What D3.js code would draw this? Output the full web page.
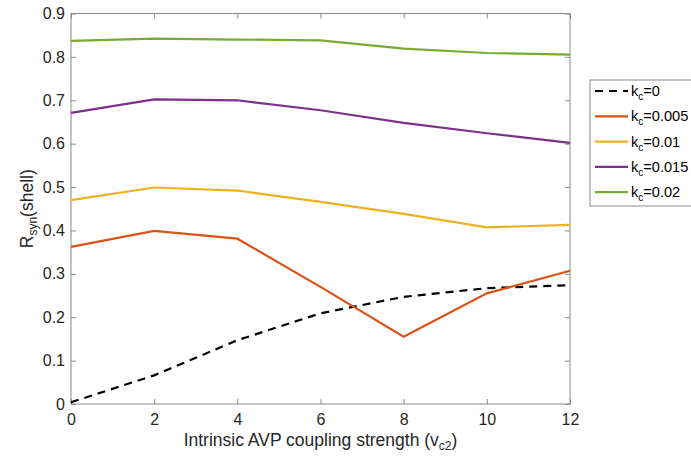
<!DOCTYPE html>
<html><head><meta charset="utf-8">
<script src="https://cdn.jsdelivr.net/npm/d3@7"></script>
<style>body{margin:0;background:#fff}svg{display:block}text{font-family:"Liberation Sans",Helvetica,Arial,sans-serif}</style>
</head><body><svg id="c" width="691" height="459"></svg>
<script>
const xValues = [0, 2, 4, 6, 8, 10, 12];
const seriesNames = ["0", "0.005", "0.01", "0.015", "0.02"];
const kc0     = [0.004, 0.066, 0.147, 0.209, 0.247, 0.267, 0.274];
const kc005   = [0.362, 0.399, 0.381, 0.270, 0.155, 0.255, 0.307];
const kc01    = [0.470, 0.499, 0.492, 0.466, 0.438, 0.407, 0.413];
const kc015   = [0.671, 0.702, 0.700, 0.677, 0.648, 0.624, 0.602];
const kc02    = [0.837, 0.842, 0.840, 0.838, 0.819, 0.809, 0.805];
const xTicks = [0, 2, 4, 6, 8, 10, 12];
const yTicks = [0, 0.1, 0.2, 0.3, 0.4, 0.5, 0.6, 0.7, 0.8, 0.9];
const colors = ["#000000", "#D95319", "#EDB120", "#7E2F8E", "#77AC30"];

const series = [kc0, kc005, kc01, kc015, kc02].map((v, i) => ({name: seriesNames[i], values: v, color: colors[i], dash: i === 0 ? "8,6" : null}));

const svg = d3.select("#c");
const L = 71, R = 570, T = 13.5, B = 404;
const x = d3.scaleLinear().domain([0, 12]).range([L, R]);
const y = d3.scaleLinear().domain([0, 0.9]).range([B, T]);
const axisColor = "#8a8a8a";

// box
svg.append("rect").attr("x", L).attr("y", T).attr("width", R - L).attr("height", B - T)
  .attr("fill", "none").attr("stroke", axisColor).attr("stroke-width", 1);

// axes
const xAxis = svg.append("g").attr("transform", `translate(0,${B})`)
  .call(d3.axisBottom(x).tickValues(xTicks).tickSize(-5).tickPadding(10).tickFormat(d3.format("d")));
const xAxisTop = svg.append("g").attr("transform", `translate(0,${T})`)
  .call(d3.axisTop(x).tickValues(xTicks).tickSize(-5).tickFormat(""));
const yAxis = svg.append("g").attr("transform", `translate(${L},0)`)
  .call(d3.axisLeft(y).tickValues(yTicks).tickSize(-5).tickPadding(6).tickFormat(d => d === 0 ? "0" : d3.format(".1f")(d)));
const yAxisR = svg.append("g").attr("transform", `translate(${R},0)`)
  .call(d3.axisRight(y).tickValues(yTicks).tickSize(-5).tickFormat(""));
[xAxis, xAxisTop, yAxis, yAxisR].forEach(g => {
  g.select(".domain").remove();
  g.selectAll(".tick line").attr("stroke", axisColor);
  g.selectAll(".tick text").attr("fill", "#262626").style("font-size", "16px").style("font-family", '"Liberation Sans",Helvetica,Arial,sans-serif');
});

// lines
const line = d3.line().x((d, i) => x(xValues[i])).y(d => y(d));
const plot = svg.append("g");
series.forEach(s => {
  plot.append("path").datum(s.values).attr("d", line).attr("fill", "none")
    .attr("stroke", s.color).attr("stroke-width", 2.2)
    .attr("stroke-dasharray", s.dash);
});

// labels
svg.append("text").attr("x", (L + R) / 2).attr("y", 446).attr("text-anchor", "middle")
  .style("font-size", "17.5px").attr("fill", "#262626")
  .html('Intrinsic AVP coupling strength (v<tspan dy="4" font-size="12px">c2</tspan><tspan dy="-4">)</tspan>');
svg.append("text").attr("transform", `translate(33,${(T + B) / 2}) rotate(-90)`).attr("text-anchor", "middle")
  .style("font-size", "17.5px").attr("fill", "#262626")
  .html('R<tspan dy="4" font-size="12px">syn</tspan><tspan dy="-4">(shell)</tspan>');

// legend
const lg = svg.append("g");
lg.append("rect").attr("x", 590).attr("y", 80).attr("width", 120).attr("height", 126)
  .attr("fill", "#fff").attr("stroke", axisColor);
series.forEach((s, i) => {
  const yy = 91 + i * 25.3;
  lg.append("line").attr("x1", 595).attr("x2", 628).attr("y1", yy).attr("y2", yy)
    .attr("stroke", s.color).attr("stroke-width", 2.2).attr("stroke-dasharray", s.dash);
  lg.append("text").attr("x", 631).attr("y", yy + 5).style("font-size", "14.6px").attr("fill", "#000")
    .html(`k<tspan dy="4" font-size="10px">c</tspan><tspan dy="-4">=${s.name}</tspan>`);
});
</script></body></html>
